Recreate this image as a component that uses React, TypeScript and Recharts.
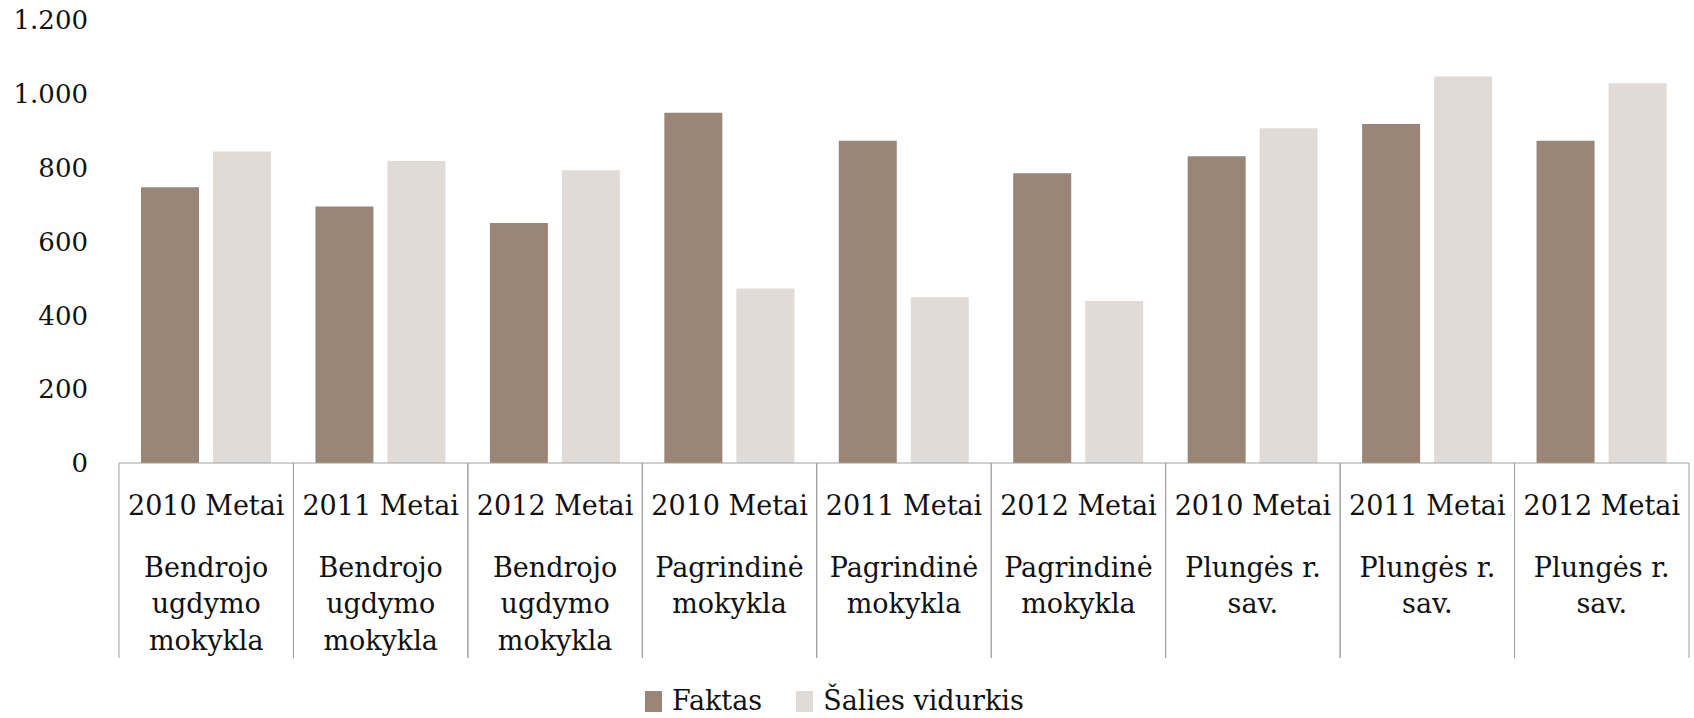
import React from 'react';
import { BarChart, Bar, XAxis, YAxis, Legend } from 'recharts';

const years = [
  '2010 Metai', '2011 Metai', '2012 Metai',
  '2010 Metai', '2011 Metai', '2012 Metai',
  '2010 Metai', '2011 Metai', '2012 Metai',
];
const groupLines = [
  ['Bendrojo', 'ugdymo', 'mokykla'],
  ['Bendrojo', 'ugdymo', 'mokykla'],
  ['Bendrojo', 'ugdymo', 'mokykla'],
  ['Pagrindinė', 'mokykla'],
  ['Pagrindinė', 'mokykla'],
  ['Pagrindinė', 'mokykla'],
  ['Plungės r.', 'sav.'],
  ['Plungės r.', 'sav.'],
  ['Plungės r.', 'sav.'],
];
const faktas = [747, 695, 650, 949, 873, 785, 831, 918, 873];
const saliesVidurkis = [844, 818, 793, 473, 449, 439, 907, 1047, 1029];
const yTicks = [0, 200, 400, 600, 800, 1000, 1200];
const seriesNames = ['Faktas', 'Šalies vidurkis'];
const seriesColors = ['#9b8577', '#e0dbd7'];

const data = years.map((y, i) => ({
  id: String(i),
  year: y,
  faktas: faktas[i],
  salies: saliesVidurkis[i],
}));

const W = 1694;
const H = 718;
const MARGIN = { top: 20, right: 5, left: 0, bottom: 0 };
const Y_AXIS_W = 119;
const X_AXIS_H = 195;
const LEGEND_H = 60;
const PLOT_W = W - MARGIN.left - MARGIN.right - Y_AXIS_W;
const HALF_BAND = PLOT_W / years.length / 2;
const FONT = '"DejaVu Serif", serif';
const TEXT = '#111111';
const AXIS = '#a0a0a0';
const LABEL_SIZE = 27;

const fmt = (v: number) => String(v).replace(/\B(?=(\d{3})+(?!\d))/g, '.');

const CategoryTick = (props: any) => {
  const { x, y, payload } = props;
  const i = Number(payload.value);
  const lines = groupLines[i] || [];
  return (
    <g>
      <line x1={x - HALF_BAND} y1={y} x2={x - HALF_BAND} y2={y + X_AXIS_H} stroke={AXIS} strokeWidth={1} />
      <line x1={x + HALF_BAND} y1={y} x2={x + HALF_BAND} y2={y + X_AXIS_H} stroke={AXIS} strokeWidth={1} />
      <text x={x} y={y + 52} textAnchor="middle" fontSize={LABEL_SIZE} fontFamily={FONT} fill={TEXT}>
        {years[i]}
      </text>
      {lines.map((l, j) => (
        <text key={j} x={x} y={y + 113.6 + j * 36.7} textAnchor="middle" fontSize={LABEL_SIZE} fontFamily={FONT} fill={TEXT}>
          {l}
        </text>
      ))}
    </g>
  );
};

const LegendContent = () => (
  <div
    style={{
      display: 'flex',
      alignItems: 'center',
      height: LEGEND_H,
      boxSizing: 'border-box',
      paddingLeft: 645,
      paddingTop: 30,
      paddingBottom: 4,
      fontFamily: FONT,
      fontSize: LABEL_SIZE,
      lineHeight: '26px',
      color: TEXT,
    }}
  >
    {seriesNames.map((n, i) => (
      <div key={n} style={{ display: 'flex', alignItems: 'center', marginRight: 34 }}>
        <span style={{ display: 'inline-block', width: 17, height: 21, background: seriesColors[i] }} />
        <span style={{ marginLeft: 10, whiteSpace: 'nowrap' }}>{n}</span>
      </div>
    ))}
  </div>
);

export default function App() {
  return (
    <div style={{ position: 'absolute', left: 0, top: 0, width: W, height: H, background: '#fff', fontFamily: FONT }}>
      <BarChart width={W} height={H} data={data} margin={MARGIN} barSize={58} barGap={14}>
        <XAxis
          dataKey="id"
          height={X_AXIS_H}
          tickLine={false}
          tickSize={0}
          tickMargin={0}
          axisLine={{ stroke: AXIS, strokeWidth: 1 }}
          tick={<CategoryTick />}
          interval={0}
        />
        <YAxis
          width={Y_AXIS_W}
          domain={[0, 1200]}
          ticks={yTicks}
          tickFormatter={fmt}
          axisLine={false}
          tickLine={false}
          tickSize={0}
          tickMargin={31}
          tick={{ fontSize: 26, fontFamily: FONT, fill: TEXT }}
          interval={0}
        />
        <Legend
          verticalAlign="bottom"
          align="left"
          content={<LegendContent />}
          wrapperStyle={{ left: 0, bottom: 0, width: W, height: LEGEND_H }}
        />
        <Bar dataKey="faktas" name={seriesNames[0]} fill={seriesColors[0]} isAnimationActive={false} />
        <Bar dataKey="salies" name={seriesNames[1]} fill={seriesColors[1]} isAnimationActive={false} />
      </BarChart>
    </div>
  );
}
